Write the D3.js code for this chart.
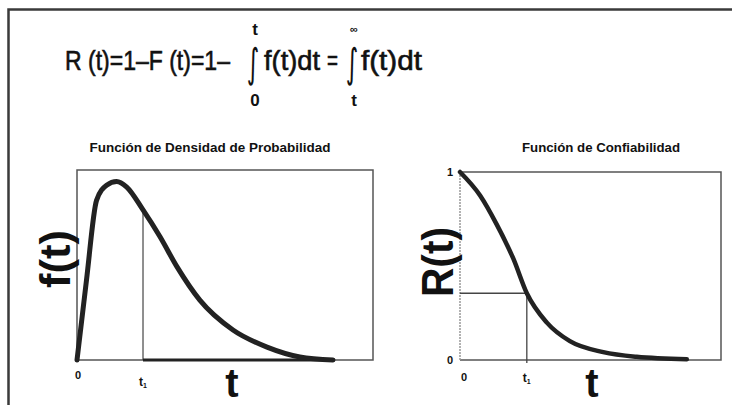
<!DOCTYPE html>
<html>
<head>
<meta charset="utf-8">
<script src="https://cdn.jsdelivr.net/npm/d3@7"></script>
<style>
  html, body { margin: 0; padding: 0; background: #fff; }
  svg { display: block; }
</style>
</head>
<body>
<svg id="chart" width="732" height="405"></svg>
<script>
// Probability density f(t): sampled points of the curve
const densT = [0, 0.32, 0.66, 1.0, 1.34, 1.68, 2.23, 2.8, 3.38, 4.15, 5.27, 6.42, 7.53, 8.65];
const densF = [0, 0.42, 0.84, 0.92, 0.94, 0.91, 0.79, 0.65, 0.49, 0.315, 0.158, 0.068, 0.016, 0];
// Reliability R(t): sampled points of the curve
const relT = [0, 0.77, 1.41, 2.04, 2.56, 3.32, 4.21, 5.49, 6.77, 8.69];
const relR = [1, 0.875, 0.72, 0.54, 0.355, 0.2, 0.1, 0.042, 0.017, 0.004];
// Marked instant t1 in each panel
const t1Dens = 2.23;
const t1Rel = 2.56;
const rAtT1 = 0.355;
// Axis tick labels
const relTicks = [0, 1];

const svg = d3.select("#chart");
const FONT = "'Liberation Sans', Arial, sans-serif";
const INK = "#222";

// Outer frame (top and left edges)
svg.append("path")
  .attr("d", "M8.5,405 L8.5,9.5 L732,9.5")
  .attr("fill", "none").attr("stroke", "#3a3a3a").attr("stroke-width", 2.5);

// ---- Formula ----
// each run of the formula is squeezed horizontally to its target width
const fg = svg.append("g").attr("font-family", FONT).attr("fill", "#111");
const pieces = [
  { s: "R (t)=1–F (t)=1–", x: 65, w: 165 },
  { s: "f(t)dt", x: 264, w: 56 },
  { s: "=", x: 327, w: 11 },
  { s: "f(t)dt", x: 361, w: 61 }
];
pieces.forEach(p => {
  const t = fg.append("text").attr("x", 0).attr("y", 0)
    .attr("font-size", 27)
    .attr("stroke", "#111").attr("stroke-width", 0.6)
    .text(p.s);
  const natural = t.node().getComputedTextLength();
  t.attr("transform", `translate(${p.x},70) scale(${p.w / natural},1)`);
});
// integral signs with limits
[{ x: 253, lo: "0", hi: "t", hiSize: 17, hiY: 35 }, { x: 352, lo: "t", hi: "∞", hiSize: 11, hiY: 33 }].forEach(g => {
  fg.append("text").attr("x", 0).attr("y", 0).attr("text-anchor", "middle")
    .attr("font-family", "'DejaVu Sans', sans-serif").attr("font-size", 40)
    .attr("transform", `translate(${g.x},77) scale(0.6,1.0)`)
    .text("∫");
  fg.append("text").attr("x", g.x + 2).attr("y", g.hiY).attr("text-anchor", "middle")
    .attr("font-size", g.hiSize).attr("font-weight", "bold").attr("font-style", g.hi === "t" ? "normal" : "italic")
    .text(g.hi);
  fg.append("text").attr("x", g.x + 2).attr("y", 106).attr("text-anchor", "middle")
    .attr("font-size", 17).attr("font-weight", "bold").text(g.lo);
});

// ---- Left panel: density ----
const xL = d3.scaleLinear().domain([0, 10]).range([77, 373]);
const yL = d3.scaleLinear().domain([0, 1]).range([360, 170]);

svg.append("rect")
  .attr("x", xL(0)).attr("y", yL(1))
  .attr("width", xL(10) - xL(0)).attr("height", yL(0) - yL(1))
  .attr("fill", "none").attr("stroke", "#555").attr("stroke-width", 1.5);

const fAtT1 = densF[densT.indexOf(t1Dens)];
svg.append("line")
  .attr("x1", xL(t1Dens)).attr("x2", xL(t1Dens))
  .attr("y1", yL(fAtT1)).attr("y2", yL(0))
  .attr("stroke", "#444").attr("stroke-width", 1.2);
// heavier baseline from t1 to the end of the curve
svg.append("line")
  .attr("x1", xL(t1Dens)).attr("x2", xL(densT[densT.length - 1]))
  .attr("y1", yL(0)).attr("y2", yL(0))
  .attr("stroke", INK).attr("stroke-width", 3);

const densLine = d3.line()
  .x((d, i) => xL(densT[i])).y(d => yL(d))
  .curve(d3.curveMonotoneX);
svg.append("path").datum(densF)
  .attr("d", densLine)
  .attr("fill", "none").attr("stroke", INK).attr("stroke-width", 5)
  .attr("stroke-linejoin", "round").attr("stroke-linecap", "round");

svg.append("text").attr("x", 210).attr("y", 152).attr("text-anchor", "middle")
  .attr("font-family", FONT).attr("font-size", 12).attr("font-weight", "bold").attr("fill", "#111")
  .attr("textLength", 241).attr("lengthAdjust", "spacingAndGlyphs")
  .text("Función de Densidad de Probabilidad");

svg.append("text").attr("x", 78).attr("y", 379).attr("text-anchor", "middle")
  .attr("font-family", FONT).attr("font-size", 11).attr("font-weight", "bold").attr("fill", "#111")
  .text("0");
const t1L = svg.append("text").attr("x", xL(t1Dens)).attr("y", 386).attr("text-anchor", "middle")
  .attr("font-family", FONT).attr("font-size", 12).attr("font-weight", "bold").attr("fill", "#111");
t1L.append("tspan").text("t");
t1L.append("tspan").attr("font-size", 7).attr("dy", 2).text("1");

svg.append("text").attr("x", 232).attr("y", 397).attr("text-anchor", "middle")
  .attr("font-family", FONT).attr("font-size", 40).attr("font-weight", "bold").attr("fill", "#111")
  .text("t");

svg.append("text")
  .attr("transform", "translate(70,259) rotate(-90)")
  .attr("text-anchor", "middle")
  .attr("font-family", FONT).attr("font-size", 42).attr("font-weight", "bold").attr("fill", "#111")
  .attr("textLength", 58).attr("lengthAdjust", "spacingAndGlyphs")
  .text("f(t)");

// ---- Right panel: reliability ----
const xR = d3.scaleLinear().domain([0, 10]).range([460, 721]);
const yR = d3.scaleLinear().domain([0, 1]).range([360, 172]);

// frame: top, right, bottom solid; left edge lighter
svg.append("path")
  .attr("d", `M${xR(0)},${yR(1)} L${xR(10)},${yR(1)} L${xR(10)},${yR(0)} L${xR(0)},${yR(0)}`)
  .attr("fill", "none").attr("stroke", "#555").attr("stroke-width", 1.5);
svg.append("line")
  .attr("x1", xR(0)).attr("x2", xR(0)).attr("y1", yR(1)).attr("y2", yR(0))
  .attr("stroke", "#999").attr("stroke-width", 1.5).attr("stroke-dasharray", "2,1");

svg.append("line")
  .attr("x1", xR(0)).attr("x2", xR(t1Rel))
  .attr("y1", yR(rAtT1)).attr("y2", yR(rAtT1))
  .attr("stroke", "#444").attr("stroke-width", 1.3);
svg.append("line")
  .attr("x1", xR(t1Rel)).attr("x2", xR(t1Rel))
  .attr("y1", yR(rAtT1)).attr("y2", yR(0) + 3)
  .attr("stroke", "#444").attr("stroke-width", 1.3);

const relLine = d3.line()
  .x((d, i) => xR(relT[i])).y(d => yR(d))
  .curve(d3.curveMonotoneX);
svg.append("path").datum(relR)
  .attr("d", relLine)
  .attr("fill", "none").attr("stroke", INK).attr("stroke-width", 4.5)
  .attr("stroke-linejoin", "round").attr("stroke-linecap", "round");

svg.append("text").attr("x", 601).attr("y", 152).attr("text-anchor", "middle")
  .attr("font-family", FONT).attr("font-size", 12).attr("font-weight", "bold").attr("fill", "#111")
  .attr("textLength", 158).attr("lengthAdjust", "spacingAndGlyphs")
  .text("Función de Confiabilidad");

svg.selectAll("text.rtick").data(relTicks).enter().append("text")
  .attr("class", "rtick")
  .attr("x", 450).attr("y", d => yR(d) + 4).attr("text-anchor", "middle")
  .attr("font-family", FONT).attr("font-size", 11).attr("font-weight", "bold").attr("fill", "#111")
  .text(d => d);
svg.append("text").attr("x", 464).attr("y", 381).attr("text-anchor", "middle")
  .attr("font-family", FONT).attr("font-size", 11).attr("font-weight", "bold").attr("fill", "#111")
  .text("0");
const t1R = svg.append("text").attr("x", xR(t1Rel)).attr("y", 382).attr("text-anchor", "middle")
  .attr("font-family", FONT).attr("font-size", 12).attr("font-weight", "bold").attr("fill", "#111");
t1R.append("tspan").text("t");
t1R.append("tspan").attr("font-size", 7).attr("dy", 2).text("1");

svg.append("text").attr("x", 592).attr("y", 397).attr("text-anchor", "middle")
  .attr("font-family", FONT).attr("font-size", 40).attr("font-weight", "bold").attr("fill", "#111")
  .text("t");

svg.append("text")
  .attr("transform", "translate(453,262) rotate(-90)")
  .attr("text-anchor", "middle")
  .attr("font-family", FONT).attr("font-size", 44).attr("font-weight", "bold").attr("fill", "#111")
  .attr("textLength", 70).attr("lengthAdjust", "spacingAndGlyphs")
  .text("R(t)");
</script>
</body>
</html>
